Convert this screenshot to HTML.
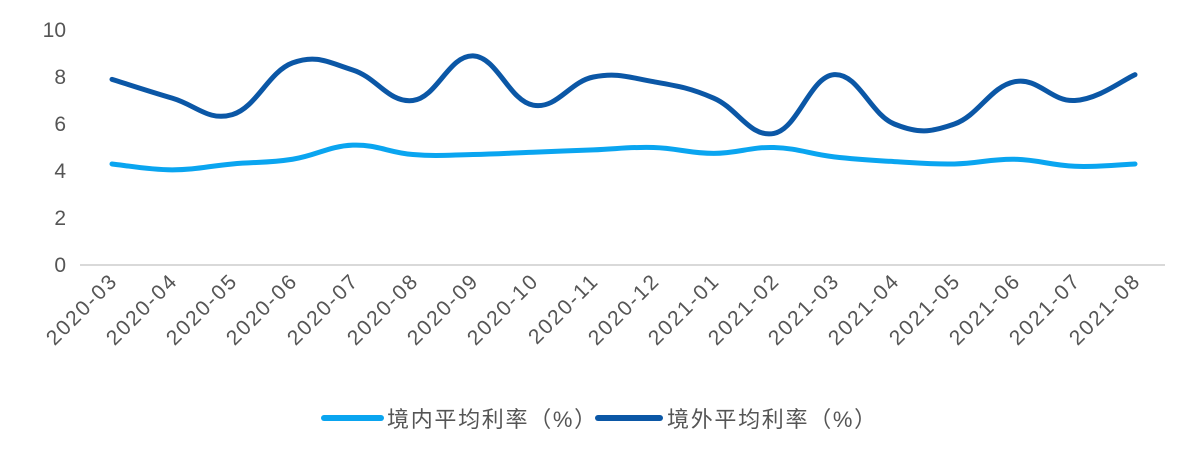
<!DOCTYPE html>
<html><head><meta charset="utf-8"><style>
html,body{margin:0;padding:0;background:#fff;}
svg text{font-family:"Liberation Sans","Noto Sans CJK SC",sans-serif;fill:#555;}
</style></head><body>
<svg id="c" width="1199" height="461" viewBox="0 0 1199 461" xmlns="http://www.w3.org/2000/svg">
<g font-size="21" text-anchor="end">
<text x="66" y="272">0</text>
<text x="66" y="225">2</text>
<text x="66" y="178">4</text>
<text x="66" y="131">6</text>
<text x="66" y="84">8</text>
<text x="66" y="37">10</text>
</g>
<line x1="80" y1="265" x2="1165" y2="265" stroke="#d9d9d9" stroke-width="2"/>
<path id="p1" fill="none" stroke="#0aa5f0" stroke-width="5" stroke-linecap="round"/>
<path id="p2" fill="none" stroke="#0b57a6" stroke-width="5" stroke-linecap="round"/>
<g font-size="21" text-anchor="end" letter-spacing="2">
<text transform="translate(119,282) rotate(-45)">2020-03</text>
<text transform="translate(179,282) rotate(-45)">2020-04</text>
<text transform="translate(239,282) rotate(-45)">2020-05</text>
<text transform="translate(299,282) rotate(-45)">2020-06</text>
<text transform="translate(360,282) rotate(-45)">2020-07</text>
<text transform="translate(420,282) rotate(-45)">2020-08</text>
<text transform="translate(480,282) rotate(-45)">2020-09</text>
<text transform="translate(540,282) rotate(-45)">2020-10</text>
<text transform="translate(600,282) rotate(-45)">2020-11</text>
<text transform="translate(661,282) rotate(-45)">2020-12</text>
<text transform="translate(721,282) rotate(-45)">2021-01</text>
<text transform="translate(781,282) rotate(-45)">2021-02</text>
<text transform="translate(841,282) rotate(-45)">2021-03</text>
<text transform="translate(901,282) rotate(-45)">2021-04</text>
<text transform="translate(962,282) rotate(-45)">2021-05</text>
<text transform="translate(1022,282) rotate(-45)">2021-06</text>
<text transform="translate(1082,282) rotate(-45)">2021-07</text>
<text transform="translate(1142,282) rotate(-45)">2021-08</text>
</g>
<line x1="324" y1="418" x2="381" y2="418" stroke="#0aa5f0" stroke-width="6" stroke-linecap="round"/>
<text x="387" y="427" font-size="22" letter-spacing="1.7">境内平均利率（%）</text>
<line x1="598" y1="418" x2="660" y2="418" stroke="#0b57a6" stroke-width="6" stroke-linecap="round"/>
<text x="667" y="427" font-size="22" letter-spacing="1.7">境外平均利率（%）</text>
</svg>
<script>
var a=[4.3,4.05,4.3,4.5,5.1,4.7,4.7,4.8,4.9,5.0,4.75,5.0,4.6,4.4,4.3,4.5,4.2,4.3];
var b=[7.9,7.1,6.4,8.6,8.3,7.0,8.9,6.8,8.0,7.8,7.1,5.6,8.1,6.0,6.0,7.8,7.0,8.1];
function path(v){var p=v.map(function(y,i){return [112+i*(1135-112)/17,265-y*23.5];});
var d="M"+p[0][0]+","+p[0][1];
for(var i=0;i<p.length-1;i++){var p0=p[Math.max(0,i-1)],p1=p[i],p2=p[i+1],p3=p[Math.min(p.length-1,i+2)],t=0.2;
d+=" C"+(p1[0]+(p2[0]-p0[0])*t)+","+(p1[1]+(p2[1]-p0[1])*t)+" "+(p2[0]-(p3[0]-p1[0])*t)+","+(p2[1]-(p3[1]-p1[1])*t)+" "+p2[0]+","+p2[1];}
return d;}
document.getElementById("p1").setAttribute("d",path(a));
document.getElementById("p2").setAttribute("d",path(b));
</script>
</body></html>
